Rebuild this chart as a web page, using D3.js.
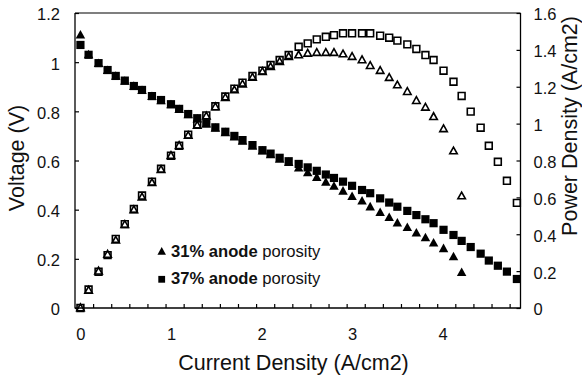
<!DOCTYPE html>
<html><head><meta charset="utf-8">
<script src="https://cdn.jsdelivr.net/npm/d3@7/dist/d3.min.js"></script>
<style>
html,body{margin:0;padding:0;background:#fff;}
svg text{font-family:"Liberation Sans",Arial,sans-serif;fill:#111;}
</style></head>
<body><svg id="c" width="582" height="380"></svg>
<script>
// ---- data ----
const current37 = [0,0.09,0.2,0.3,0.39,0.49,0.59,0.68,0.79,0.89,1.0,1.09,1.19,1.29,1.39,1.49,1.6,1.7,1.79,1.9,2.01,2.1,2.2,2.3,2.41,2.51,2.61,2.71,2.8,2.9,3.0,3.11,3.2,3.31,3.41,3.5,3.61,3.71,3.81,3.9,4.01,4.12,4.21,4.31,4.42,4.51,4.61,4.71,4.82];
const voltage37 = [1.07,1.03,0.996,0.968,0.944,0.925,0.903,0.887,0.862,0.846,0.829,0.81,0.789,0.772,0.751,0.735,0.717,0.70,0.683,0.663,0.642,0.628,0.611,0.597,0.586,0.572,0.558,0.543,0.529,0.514,0.497,0.48,0.467,0.446,0.429,0.412,0.395,0.378,0.361,0.345,0.318,0.297,0.273,0.248,0.221,0.193,0.172,0.148,0.118];
const power37 = [0,0.10,0.197,0.287,0.375,0.455,0.537,0.61,0.685,0.755,0.826,0.88,0.94,0.996,1.045,1.094,1.147,1.19,1.222,1.258,1.287,1.318,1.345,1.372,1.417,1.435,1.457,1.471,1.48,1.49,1.49,1.49,1.49,1.477,1.466,1.45,1.43,1.405,1.372,1.345,1.287,1.227,1.15,1.065,0.978,0.88,0.793,0.69,0.57];
const current31 = [0,0.09,0.2,0.3,0.39,0.49,0.59,0.68,0.79,0.89,1.0,1.09,1.19,1.29,1.39,1.49,1.6,1.7,1.79,1.9,2.01,2.1,2.2,2.3,2.41,2.51,2.61,2.71,2.8,2.9,3.0,3.11,3.2,3.31,3.41,3.5,3.61,3.71,3.81,3.9,4.01,4.12,4.21];
const voltage31 = [1.11,1.03,0.994,0.966,0.942,0.922,0.901,0.884,0.86,0.843,0.826,0.807,0.786,0.768,0.748,0.731,0.713,0.695,0.678,0.658,0.638,0.623,0.605,0.592,0.569,0.55,0.531,0.511,0.495,0.475,0.453,0.435,0.411,0.388,0.368,0.345,0.327,0.305,0.285,0.264,0.241,0.208,0.144];
const power31 = [0,0.095,0.199,0.29,0.367,0.452,0.532,0.601,0.679,0.75,0.826,0.88,0.935,0.99,1.04,1.09,1.141,1.182,1.214,1.25,1.282,1.308,1.336,1.363,1.372,1.381,1.385,1.385,1.385,1.377,1.363,1.345,1.314,1.287,1.249,1.209,1.173,1.124,1.088,1.037,0.971,0.851,0.607];
const xTickLabels = [0,1,2,3,4];
const yLeftTicks = [0,0.2,0.4,0.6,0.8,1,1.2];
const yRightTicks = [0,0.2,0.4,0.6,0.8,1,1.2,1.4,1.6];
const legendLabels = [["31% anode","porosity"],["37% anode","porosity"]];

// ---- layout ----
const L=75, R=520.5, T=13, B=308;
const xDomain=[-0.06,4.86];
const x=d3.scaleLinear().domain(xDomain).range([L,R]);
const yL=d3.scaleLinear().domain([0,1.2]).range([B,T]);
const yR=d3.scaleLinear().domain([0,1.6]).range([B,T]);
const svg=d3.select("#c");

// frame
svg.append("line").attr("x1",L).attr("x2",R).attr("y1",T).attr("y2",T).attr("stroke","#555").attr("stroke-width",1.6);
svg.append("line").attr("x1",L).attr("x2",L).attr("y1",T).attr("y2",B+0.5).attr("stroke","#000").attr("stroke-width",1.3);
svg.append("line").attr("x1",R).attr("x2",R).attr("y1",T).attr("y2",B+0.5).attr("stroke","#000").attr("stroke-width",1.3);
svg.append("line").attr("x1",L).attr("x2",R).attr("y1",B).attr("y2",B).attr("stroke","#000").attr("stroke-width",1.3);

// left axis
const gl=svg.append("g").attr("transform",`translate(${L},0)`)
  .call(d3.axisLeft(yL).tickValues(yLeftTicks).tickSizeInner(-4).tickSizeOuter(0).tickPadding(15).tickFormat(d3.format("~g")));
// right axis
const gr=svg.append("g").attr("transform",`translate(${R},0)`)
  .call(d3.axisRight(yR).tickValues(yRightTicks).tickSizeInner(-4).tickSizeOuter(0).tickPadding(13).tickFormat(d3.format("~g")));
[gl,gr].forEach(g=>{g.select(".domain").remove();g.selectAll(".tick line").attr("stroke","#000").attr("stroke-width",1.2);
  g.selectAll(".tick text").attr("font-size","16.5px").attr("fill","#111").attr("font-family","Liberation Sans, Arial, sans-serif").attr("dy","0.42em");});

// bottom minor ticks every 0.2 from axis start
const minor=d3.range(xDomain[0]+0.2,xDomain[1]-0.05,0.2);
const gb=svg.append("g").attr("transform",`translate(0,${B})`)
  .call(d3.axisBottom(x).tickValues(minor).tickSizeInner(-4).tickSizeOuter(0).tickFormat(""));
gb.select(".domain").remove();
gb.selectAll(".tick line").attr("stroke","#000").attr("stroke-width",1.2);
// bottom labels
const gb2=svg.append("g").attr("transform",`translate(0,${B})`)
  .call(d3.axisBottom(x).tickValues(xTickLabels).tickSize(0).tickPadding(20).tickFormat(d3.format("d")));
gb2.select(".domain").remove();
gb2.selectAll(".tick text").attr("font-size","16.5px").attr("fill","#111").attr("font-family","Liberation Sans, Arial, sans-serif");

// titles
svg.append("text").attr("x",293.5).attr("y",370).attr("text-anchor","middle").attr("font-size","21.5px").text("Current Density (A/cm2)");
svg.append("text").attr("transform","translate(24,158) rotate(-90)").attr("text-anchor","middle").attr("font-size","21.5px").text("Voltage (V)");
svg.append("text").attr("transform","translate(577,126) rotate(-90)").attr("text-anchor","middle").attr("font-size","21.5px").text("Power Density (A/cm2)");

// marker helpers
const tri=(cx,cy,s)=>{const h=s*0.9;return `M${cx},${cy-h*0.6}L${cx+s/2},${cy+h*0.4}L${cx-s/2},${cy+h*0.4}Z`;};
const sq=(cx,cy,s)=>`M${cx-s/2},${cy-s/2}h${s}v${s}h${-s}Z`;

const d31=current31.map((c,i)=>({c,v:voltage31[i],p:power31[i]}));
const d37=current37.map((c,i)=>({c,v:voltage37[i],p:power37[i]}));
const plot=svg.append("g");
// power open markers
plot.selectAll(".pt").data(d31).join("path").attr("d",d=>tri(x(d.c),yR(d.p),7.5)).attr("fill","none").attr("stroke","#000").attr("stroke-width",1.6);
plot.selectAll(".ps").data(d37).join("path").attr("d",d=>sq(x(d.c),yR(d.p),6.8)).attr("fill","none").attr("stroke","#000").attr("stroke-width",1.6);
// voltage filled markers
plot.selectAll(".vt").data(d31).join("path").attr("d",d=>tri(x(d.c),yL(d.v),9.5)).attr("fill","#000");
plot.selectAll(".vs").data(d37).join("path").attr("d",d=>sq(x(d.c),yL(d.v),8.2)).attr("fill","#000");

// legend
const lg=svg.append("g");
const ly=[251.7,279.3];
legendLabels.forEach((lab,i)=>{
  lg.append("path").attr("d",i===0?tri(161.7,ly[i],8.5):sq(161.7,ly[i],6.8)).attr("fill","#000");
  const t=lg.append("text").attr("x",171).attr("y",ly[i]+4.8).attr("font-size","16.6px");
  t.append("tspan").attr("font-weight","bold").text(lab[0]+" ");
  t.append("tspan").text(lab[1]);
});
</script></body></html>
